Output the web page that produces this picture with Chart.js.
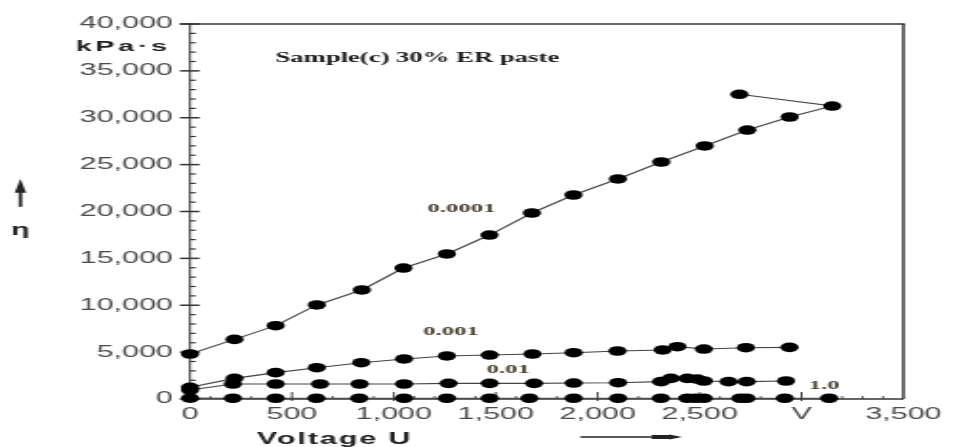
<!DOCTYPE html>
<html><head><meta charset="utf-8">
<script src="https://cdn.jsdelivr.net/npm/chart.js@4/dist/chart.umd.min.js"></script>
<style>html,body{margin:0;padding:0;background:#fff;overflow:hidden}</style></head>
<body><canvas id="c" width="500" height="447" style="display:block;width:953px;height:447px"></canvas>
<script>
// Data (Voltage U in V, viscosity eta in kPa·s)
const seriesNames = ['0.0001', '0.001', '0.01', '1.0'];
const volt0001 = [0, 218, 420, 622, 843, 1047, 1260, 1469, 1677, 1881, 2099, 2312, 2525, 2734, 2942, 3151, 2695];
const eta0001  = [4800, 6360, 7820, 10030, 11630, 13970, 15470, 17490, 19840, 21760, 23470, 25280, 26990, 28690, 30080, 31250, 32500];
const volt001  = [0, 218, 420, 622, 840, 1050, 1260, 1470, 1680, 1882, 2097, 2319, 2391, 2521, 2727, 2941];
const eta001   = [1250, 2200, 2810, 3340, 3870, 4270, 4590, 4690, 4800, 4940, 5120, 5230, 5580, 5330, 5470, 5510];
const volt01   = [0, 210, 420, 638, 832, 1050, 1268, 1470, 1688, 1882, 2100, 2311, 2359, 2440, 2488, 2521, 2642, 2731, 2924];
const eta01    = [960, 1600, 1600, 1600, 1600, 1600, 1670, 1670, 1670, 1700, 1740, 1850, 2200, 2200, 2130, 1920, 1850, 1850, 1920];
const volt1    = [0, 210, 420, 620, 830, 1050, 1260, 1470, 1665, 1882, 2100, 2310, 2440, 2480, 2520, 2700, 2730, 2918, 3136];
const eta1     = [90, 80, 80, 80, 80, 80, 80, 80, 80, 80, 80, 80, 80, 80, 80, 80, 80, 80, 80];
const xTickValues = [0, 500, 1000, 1500, 2000, 2500, 3000, 3500];
const xTickLabels = ['0', '500', '1,000', '1,500', '2,000', '2,500', 'V', '3,500'];
const yTickLabels = ['0', '5,000', '10,000', '15,000', '20,000', '25,000', '30,000', '35,000', '40,000'];

function pts(xs, ys) { return xs.map((v, i) => ({x: v, y: ys[i]})); }
function ds(xs, ys) {
  return {data: pts(xs, ys), showLine: true, borderColor: '#444', borderWidth: 1.1,
    pointRadius: 4.8, pointBackgroundColor: '#000', pointBorderWidth: 0, clip: false, tension: 0};
}

const decor = {
  id: 'decor',
  beforeDatasetsDraw(chart) {
    const {ctx, chartArea: a, scales: {x, y}} = chart;
    ctx.save();
    ctx.strokeStyle = '#333';
    ctx.lineCap = 'butt';
    ctx.lineWidth = 1.6;
    ctx.beginPath(); ctx.moveTo(a.left - 5.3, a.top); ctx.lineTo(a.right + 0.7, a.top); ctx.stroke();
    ctx.lineWidth = 1.4;
    ctx.beginPath(); ctx.moveTo(a.right, a.top); ctx.lineTo(a.right, a.bottom); ctx.stroke();
    ctx.lineWidth = 1.0;
    ctx.beginPath(); ctx.moveTo(a.left, a.top); ctx.lineTo(a.left, a.bottom); ctx.stroke();
    ctx.lineWidth = 1.4;
    ctx.beginPath(); ctx.moveTo(a.left, a.bottom); ctx.lineTo(a.right, a.bottom); ctx.stroke();
    for (let v = 0; v <= 40000; v += 1000) {
      const py = y.getPixelForValue(v);
      ctx.beginPath();
      if (v % 5000 === 0) { ctx.lineWidth = 1.5; ctx.moveTo(a.left - 5.3, py); ctx.lineTo(a.left + 5, py); }
      else { ctx.lineWidth = 1.2; ctx.moveTo(a.left, py); ctx.lineTo(a.left + 3, py); }
      ctx.stroke();
    }
    for (let v = 100; v < 3500; v += 100) {
      const px = x.getPixelForValue(v);
      ctx.beginPath();
      if (v % 500 === 0) { ctx.lineWidth = 0.9; ctx.moveTo(px, a.bottom + 2); ctx.lineTo(px, a.bottom - 7); }
      else { ctx.lineWidth = 0.8; ctx.moveTo(px, a.bottom); ctx.lineTo(px, a.bottom - 3); }
      ctx.stroke();
    }
    ctx.restore();
  },
  afterDraw(chart) {
    const {ctx, chartArea: a, scales: {x, y}} = chart;
    ctx.save();
    ctx.textAlign = 'center';
    ctx.textBaseline = 'middle';
    ctx.fillStyle = '#1a1a1a';
    ctx.font = 'bold 14px "Liberation Serif"';
    ctx.fillText('Sample(c) 30% ER paste', x.getPixelForValue(1115), y.getPixelForValue(36300));
    ctx.fillStyle = '#4a4232';
    ctx.font = 'bold 13px "Liberation Serif"';
    ctx.fillText(seriesNames[0], x.getPixelForValue(1333), y.getPixelForValue(20270));
    ctx.fillText(seriesNames[1], x.getPixelForValue(1280), y.getPixelForValue(7150));
    ctx.fillText(seriesNames[2], x.getPixelForValue(1561), y.getPixelForValue(3090));
    ctx.fillText(seriesNames[3], x.getPixelForValue(3110), y.getPixelForValue(1390));
    ctx.fillStyle = '#222';
    ctx.font = 'bold 15px "Liberation Sans"';
    ctx.letterSpacing = '2px';
    ctx.fillText('kPa·s', a.left - 35, y.getPixelForValue(37550));
    ctx.font = 'bold 16px "Liberation Sans"';
    ctx.letterSpacing = '1px';
    ctx.fillText('Voltage U', x.getPixelForValue(710), a.bottom + 41);
    ctx.letterSpacing = '0px';
    const yA = a.bottom + 38;
    const x0 = x.getPixelForValue(1915), x1 = x.getPixelForValue(2264), x2 = x.getPixelForValue(2351), x3 = x.getPixelForValue(2414);
    ctx.strokeStyle = '#222'; ctx.lineWidth = 1.3;
    ctx.beginPath(); ctx.moveTo(x0, yA); ctx.lineTo(x1, yA); ctx.stroke();
    ctx.fillStyle = '#222';
    ctx.beginPath();
    ctx.moveTo(x1, yA - 2); ctx.lineTo(x2, yA - 2); ctx.lineTo(x2, yA - 2.6); ctx.lineTo(x3, yA);
    ctx.lineTo(x2, yA + 2.6); ctx.lineTo(x2, yA + 2); ctx.lineTo(x1, yA + 2); ctx.closePath(); ctx.fill();
    const ax = a.left - 89;
    ctx.lineWidth = 1.8;
    ctx.beginPath(); ctx.moveTo(ax, y.getPixelForValue(22300)); ctx.lineTo(ax, y.getPixelForValue(20500)); ctx.stroke();
    ctx.beginPath();
    ctx.moveTo(ax, y.getPixelForValue(23500)); ctx.lineTo(ax - 3, y.getPixelForValue(22000)); ctx.lineTo(ax + 3, y.getPixelForValue(22000));
    ctx.closePath(); ctx.fill();
    ctx.font = 'bold 16px "Liberation Sans"';
    ctx.fillText('η', ax, y.getPixelForValue(18000));
    ctx.restore();
  }
};

new Chart(document.getElementById('c'), {
  type: 'scatter',
  data: {datasets: [ds(volt0001, eta0001), ds(volt001, eta001), ds(volt01, eta01), ds(volt1, eta1)]},
  options: {
    responsive: false, animation: false, devicePixelRatio: 1,
    layout: {padding: {left: 0, right: 21.5, top: 24, bottom: 0}},
    plugins: {legend: {display: false}, tooltip: {enabled: false}},
    scales: {
      x: {type: 'linear', min: 0, max: 3500,
        afterFit(s) { s.height = 48; },
        afterBuildTicks(s) { s.ticks = xTickValues.map(v => ({value: v})); },
        grid: {display: false, drawTicks: false}, border: {display: false},
        ticks: {padding: 6, color: '#4a4a4a', maxRotation: 0, autoSkip: false,
          font: {family: 'Liberation Sans', size: 16},
          callback: (v) => xTickLabels[xTickValues.indexOf(v)]}},
      y: {type: 'linear', min: 0, max: 40000,
        afterFit(s) { s.width = 99.7; },
        afterBuildTicks(s) { s.ticks = yTickLabels.map((t, i) => ({value: i * 5000})); },
        grid: {display: false, drawTicks: false}, border: {display: false},
        ticks: {padding: 9, color: '#4a4a4a', autoSkip: false,
          font: {family: 'Liberation Sans', size: 16},
          callback: (v) => yTickLabels[v / 5000]}}
    }
  },
  plugins: [decor]
});
</script></body></html>
